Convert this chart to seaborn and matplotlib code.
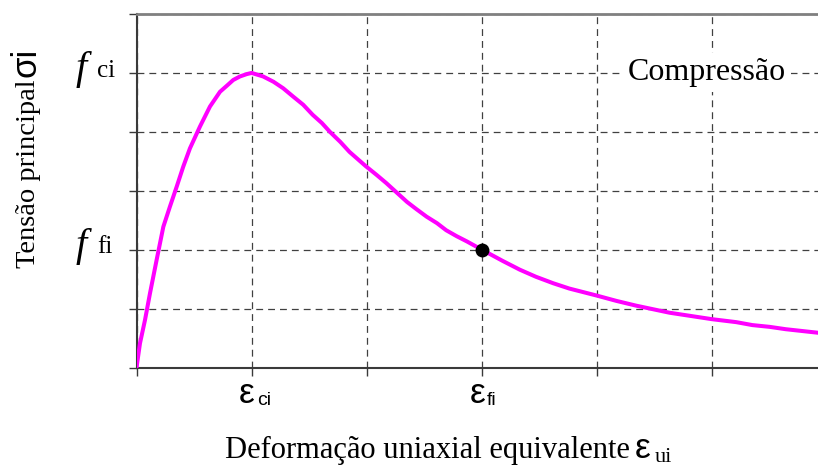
import matplotlib
matplotlib.use("Agg")
import matplotlib.pyplot as plt
import seaborn as sns
import pandas as pd

# Uniaxial equivalent stress-strain curve (compression), normalised units:
# both axes measured in grid steps.
strain = [0, 0.03, 0.074, 0.117, 0.175, 0.204, 0.233, 0.29, 0.349, 0.406,
          0.464, 0.551, 0.638, 0.725, 0.783, 0.84, 0.898, 0.957, 1.0, 1.10,
          1.19, 1.274, 1.36, 1.448, 1.53, 1.61, 1.68, 1.77, 1.85, 1.99,
          2.085, 2.17, 2.26, 2.35, 2.43, 2.52, 2.61, 2.69, 2.78, 2.87,
          3.0, 3.18, 3.33, 3.47, 3.62, 3.76, 4.0, 4.17, 4.34, 4.63,
          5.0, 5.21, 5.35, 5.5, 5.64, 5.92]
stress = [0, 0.41, 0.81, 1.26, 1.83, 2.11, 2.39, 2.73, 3.07, 3.41,
          3.72, 4.09, 4.43, 4.68, 4.78, 4.88, 4.94, 4.98, 5.0, 4.94,
          4.85, 4.74, 4.6, 4.46, 4.29, 4.15, 4.0, 3.83, 3.66, 3.42,
          3.27, 3.13, 2.97, 2.81, 2.69, 2.56, 2.45, 2.33, 2.23, 2.14,
          2.0, 1.81, 1.66, 1.54, 1.43, 1.34, 1.22, 1.13, 1.05, 0.93,
          0.82, 0.77, 0.72, 0.69, 0.65, 0.59]

# Marked point (eps_fi, f_fi)
point_strain = [3.0]
point_stress = [2.0]

x_ticks = [0, 1, 2, 3, 4, 5]
y_ticks = [0, 1, 2, 3, 4, 5, 6]
# Labelled ticks: (position, main symbol, subscript)
x_named = [(1, "ε", "ci"), (3, "ε", "fi")]
y_named = [(5, "f", "ci"), (2, "f", "fi")]

x_label = "Deformação uniaxial equivalente"
x_label_symbol = ("ε", "ui")
y_label = "Tensão principal"
y_label_symbol = "σi"
region_label = "Compressão"

sns.set_theme(style="white")
plt.rcParams["font.family"] = ["Liberation Serif", "DejaVu Serif"]
plt.rcParams["text.color"] = "black"

SANS = ["Liberation Sans", "DejaVu Sans"]
SERIF = ["Liberation Serif", "DejaVu Serif"]

fig = plt.figure(figsize=(8.18, 4.69), dpi=100)
ax = fig.add_axes([0.1669, 0.2164, 0.8331, 0.7537])

df = pd.DataFrame({"strain": strain, "stress": stress})
sns.lineplot(data=df, x="strain", y="stress", ax=ax, color="#ff00ff",
             lw=2.9, estimator=None, sort=False, zorder=3)
sns.scatterplot(x=point_strain, y=point_stress, ax=ax, color="black",
                s=100, edgecolor="black", linewidth=0, zorder=4)

ax.set_xlim(0, 5.92)
ax.set_ylim(0, 6)
ax.set_xticks(x_ticks)
ax.set_xticklabels([""] * len(x_ticks))
ax.set_yticks(y_ticks)
ax.set_yticklabels([""] * len(y_ticks))

ax.tick_params(axis="x", direction="out", length=5.5, width=1.0,
               color="#3a3a3a", bottom=True)
ax.tick_params(axis="y", direction="out", length=6, width=1.0,
               color="#3a3a3a", left=True)

ax.grid(True, color="#404040", lw=0.9, linestyle=(0, (5.5, 4)))
ax.set_axisbelow(True)

for side in ("left", "bottom"):
    ax.spines[side].set_color("#3a3a3a")
    ax.spines[side].set_linewidth(1.5)
ax.spines["top"].set_color("#808080")
ax.spines["top"].set_linewidth(2.0)
ax.spines["right"].set_visible(False)

# Symbolic tick labels on the strain axis: large epsilon with small subscript
for pos, sym, sub in x_named:
    ax.annotate(sym, xy=(pos, 0), xycoords=("data", "axes fraction"),
                xytext=(-3.4, -25.6), textcoords="offset points",
                ha="center", va="baseline", fontsize=25.5, family=SANS,
                color="black", annotation_clip=False)
    ax.annotate(sub, xy=(pos, 0), xycoords=("data", "axes fraction"),
                xytext=(3.6, -27.0), textcoords="offset points",
                ha="left", va="baseline", fontsize=14, family=SANS,
                color="black", annotation_clip=False)

# Symbolic tick labels on the stress axis: italic f with subscript
for pos, sym, sub in y_named:
    ax.annotate(sym, xy=(0, pos), xycoords=("axes fraction", "data"),
                xytext=(-40.0, -4.5), textcoords="offset points",
                ha="center", va="baseline", fontsize=29, family=SERIF,
                style="italic", color="black", annotation_clip=False)
    ax.annotate(sub, xy=(0, pos), xycoords=("axes fraction", "data"),
                xytext=(-28.2, -2.6), textcoords="offset points",
                ha="left", va="baseline", fontsize=18, family=SERIF,
                color="black", annotation_clip=False)

# Axis titles
ax.set_xlabel(x_label, fontsize=22, ha="left", va="baseline", color="black")
ax.xaxis.set_label_coords(0.1299, -0.256)
ax.annotate(x_label_symbol[0], xy=(0.7433, -0.256), xycoords="axes fraction",
            ha="center", va="baseline", fontsize=25.5, family=SANS,
            color="black", annotation_clip=False)
ax.annotate(x_label_symbol[1], xy=(0.7600, -0.2665), xycoords="axes fraction",
            ha="left", va="baseline", fontsize=16, family=SERIF,
            color="black", annotation_clip=False)

ax.set_ylabel(y_label, fontsize=20.5, ha="left", va="baseline", color="black")
ax.yaxis.set_label_coords(-0.1489, 0.2815)
ax.annotate(y_label_symbol, xy=(-0.1489, 0.822), xycoords="axes fraction",
            rotation=90, rotation_mode="anchor", ha="left", va="baseline",
            fontsize=25, family=SANS, color="black", annotation_clip=False)

ax.text(0.837, 0.813, region_label, transform=ax.transAxes, fontsize=23,
        ha="center", va="baseline", zorder=5, color="black",
        bbox=dict(boxstyle="square,pad=0.15", fc="white", ec="none"))

fig.savefig("out.png", dpi=100)
